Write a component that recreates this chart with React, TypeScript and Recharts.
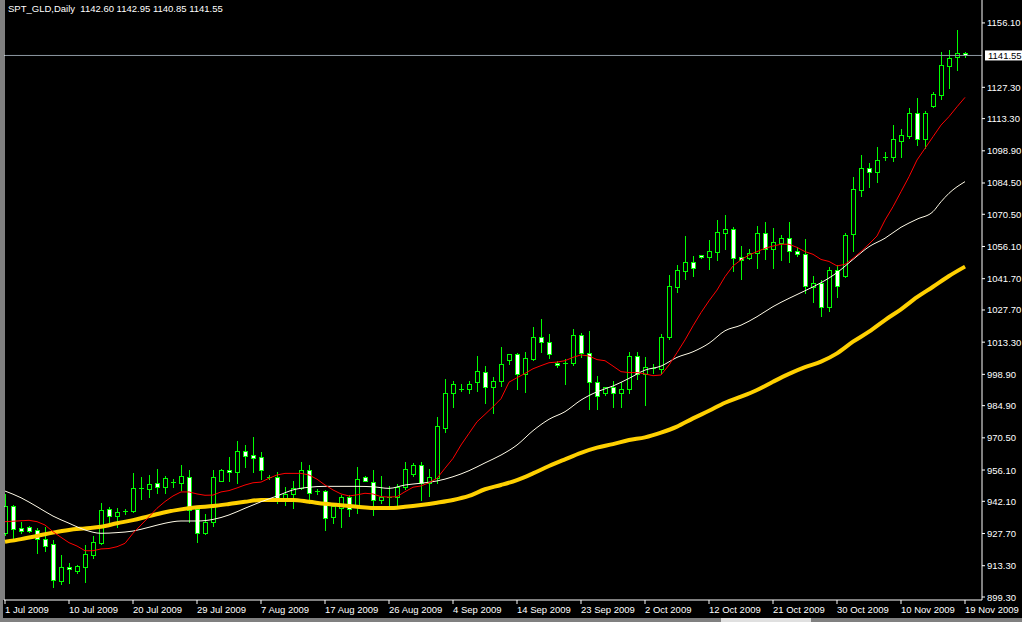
import { ComposedChart, Bar, Line, XAxis, YAxis, ReferenceLine } from 'recharts';

// daily OHLC, one entry per bar (Sun-Fri bars, 1 Jul .. 19 Nov 2009)
const opens = [
  928.0, 940.0, 930.2, 930.6, 929.3, 925.2, 922.9, 906.6, 912.7, 911.1,
  912.9, 918.2, 923.6, 938.5, 935.7, 937.6, 937.6, 947.9, 947.8, 950.3,
  948.4, 950.6, 950.2, 953.1, 938.5, 927.8, 933.0, 951.3, 956.1, 955.1,
  964.5, 962.8, 961.8, 953.0, 952.8, 943.3, 945.4, 947.9, 956.1, 946.5,
  946.7, 935.0, 939.2, 944.0, 939.4, 953.0, 950.6, 942.6, 944.0, 944.0,
  948.5, 954.5, 958.2, 950.4, 952.7, 975.0, 990.4, 992.5, 992.5, 995.3,
  999.8, 993.1, 995.8, 1005.2, 1007.9, 999.0, 1005.6, 1015.5, 1013.2, 1004.0,
  1003.8, 1003.8, 1016.5, 1008.3, 995.3, 990.7, 993.1, 990.4, 992.2, 1007.1,
  999.1, 1001.6, 1001.2, 1015.8, 1038.1, 1045.3, 1049.2, 1052.1, 1051.3, 1053.8,
  1062.3, 1063.8, 1051.3, 1051.1, 1053.0, 1062.0, 1054.8, 1057.8, 1059.7, 1053.9,
  1052.6, 1038.1, 1039.6, 1028.9, 1045.6, 1042.9, 1061.5, 1081.5, 1091.1, 1089.3,
  1096.3, 1096.3, 1103.4, 1105.5, 1115.7, 1104.1, 1119.1, 1124.0, 1137.0, 1140.7,
  1142.6,
];
const highs = [
  945.4, 940.5, 932.7, 931.2, 930.2, 930.8, 924.8, 918.1, 914.4, 913.7,
  922.6, 926.6, 941.5, 939.4, 939.1, 938.5, 954.9, 953.1, 953.9, 956.4,
  953.6, 951.9, 958.3, 956.1, 939.4, 936.3, 956.1, 956.6, 962.1, 969.1,
  967.3, 970.7, 964.0, 953.7, 955.4, 948.6, 951.2, 959.6, 958.3, 947.6,
  947.2, 941.2, 945.1, 944.8, 957.6, 953.4, 956.1, 953.4, 948.9, 949.8,
  959.7, 959.4, 959.7, 956.6, 979.8, 996.8, 995.9, 994.6, 995.9, 1007.1,
  1002.6, 997.6, 1011.1, 1007.9, 1008.6, 1008.9, 1020.1, 1023.7, 1017.1, 1004.9,
  1005.6, 1019.2, 1017.4, 1018.3, 998.2, 993.1, 995.9, 995.3, 1009.0, 1009.0,
  1006.8, 1003.4, 1017.0, 1043.3, 1047.8, 1060.8, 1051.8, 1052.3, 1059.0, 1067.9,
  1070.2, 1065.0, 1056.2, 1055.0, 1065.3, 1067.0, 1064.4, 1061.2, 1067.0, 1055.7,
  1059.3, 1042.9, 1041.1, 1047.1, 1047.8, 1062.3, 1087.3, 1097.0, 1093.3, 1100.6,
  1098.4, 1110.4, 1108.6, 1118.0, 1122.5, 1116.9, 1125.3, 1143.1, 1144.0, 1153.0,
  1142.95,
];
const lows = [
  927.0, 924.8, 927.8, 928.4, 918.8, 920.0, 903.9, 905.1, 905.7, 910.2,
  906.1, 916.9, 923.0, 931.5, 930.8, 936.3, 937.3, 943.1, 943.9, 946.0,
  946.0, 948.6, 947.2, 933.0, 924.0, 927.5, 931.1, 951.0, 951.3, 950.2,
  957.6, 955.0, 952.2, 952.0, 941.2, 940.5, 939.0, 947.6, 941.2, 945.4,
  929.3, 932.5, 930.5, 935.7, 936.7, 951.0, 936.2, 941.5, 938.5, 939.7,
  947.5, 953.4, 942.7, 944.6, 950.2, 973.2, 984.4, 991.4, 990.4, 991.6,
  986.2, 981.7, 993.7, 1003.7, 992.2, 991.1, 1005.3, 1009.0, 1006.1, 1002.3,
  994.4, 1002.9, 1006.7, 983.6, 983.6, 989.7, 984.4, 984.2, 990.7, 996.7,
  985.3, 999.6, 999.4, 1014.6, 1035.9, 1041.7, 1042.9, 1051.1, 1046.2, 1050.1,
  1055.1, 1045.3, 1041.7, 1050.4, 1046.6, 1050.5, 1046.3, 1050.1, 1049.2, 1052.0,
  1035.4, 1031.4, 1025.1, 1027.4, 1033.6, 1042.3, 1054.2, 1078.8, 1082.8, 1085.1,
  1094.8, 1094.5, 1096.3, 1104.6, 1101.5, 1100.0, 1118.5, 1122.2, 1127.1, 1135.0,
  1140.85,
];
const closes = [
  940.0, 929.9, 928.7, 929.0, 925.1, 922.2, 906.8, 912.7, 911.7, 913.2,
  918.5, 923.8, 938.2, 935.7, 937.3, 937.6, 947.9, 947.9, 949.7, 948.4,
  952.4, 950.6, 953.4, 938.2, 927.8, 933.0, 952.8, 956.1, 955.1, 964.5,
  962.5, 961.6, 956.2, 953.0, 943.3, 945.4, 947.9, 956.0, 946.0, 946.5,
  934.8, 940.0, 944.0, 938.8, 952.1, 951.1, 942.6, 944.0, 944.0, 948.5,
  956.6, 958.2, 950.4, 953.0, 975.8, 990.6, 994.4, 992.5, 994.6, 1000.3,
  993.1, 995.9, 1003.4, 1007.9, 999.0, 1006.1, 1015.5, 1013.2, 1007.9, 1002.9,
  1003.8, 1016.5, 1008.3, 995.3, 989.1, 993.1, 990.7, 992.2, 1007.1, 999.1,
  1002.3, 1001.6, 1015.5, 1038.4, 1045.6, 1049.2, 1046.6, 1051.3, 1054.1, 1062.6,
  1063.8, 1051.1, 1049.9, 1053.0, 1062.0, 1054.8, 1057.9, 1059.7, 1054.2, 1052.6,
  1038.3, 1039.6, 1028.9, 1045.6, 1038.6, 1061.2, 1081.8, 1091.2, 1089.3, 1094.6,
  1096.3, 1104.2, 1105.8, 1115.7, 1104.1, 1115.7, 1124.3, 1137.3, 1140.3, 1142.5,
  1141.55,
];

// fast moving average (red), one value per bar
const redMa = [
  933.0, 933.2, 933.4, 933.6, 933.0, 931.5, 928.5, 926.0, 923.6, 922.1,
  920.0, 920.0, 920.8, 921.0, 921.8, 923.3, 927.8, 931.5, 935.2, 939.0,
  942.0, 944.5, 946.3, 946.3, 945.4, 944.8, 944.9, 946.3, 946.9, 948.1,
  949.4, 950.4, 950.7, 952.4, 953.9, 954.6, 954.6, 954.6, 953.9, 952.0,
  949.4, 947.2, 945.4, 944.5, 945.0, 945.7, 945.4, 944.2, 944.0, 944.2,
  946.4, 948.4, 949.0, 950.4, 952.4, 956.9, 961.3, 967.3, 972.5, 977.7,
  981.0, 984.4, 988.0, 995.4, 997.4, 999.3, 1001.4, 1002.8, 1004.1, 1004.4,
  1005.0, 1006.5, 1007.6, 1007.1, 1005.5, 1005.0, 1002.6, 1000.1, 999.7, 999.7,
  999.1, 998.3, 998.6, 1003.1, 1008.6, 1014.3, 1020.6, 1026.5, 1031.8, 1036.6,
  1042.6, 1047.4, 1050.1, 1052.3, 1053.8, 1055.3, 1056.3, 1057.1, 1057.1, 1055.7,
  1053.8, 1052.6, 1050.3, 1049.4, 1047.4, 1048.1, 1050.8, 1053.8, 1057.2, 1060.8,
  1067.9, 1073.9, 1080.6, 1087.3, 1094.8, 1100.0, 1105.2, 1110.4, 1114.2, 1118.6,
  1122.8,
];

// slower averages, [bar, value]
const whiteMa: [number, number][] = [
  [0, 946.7], [2, 943.7], [4, 939.7], [6, 935.5], [8, 932.3], [10, 929.3], [12, 927.8],
  [14, 928.1], [16, 928.8], [18, 930.5], [20, 932.3], [22, 933.3], [24, 933.3], [26, 934.0],
  [28, 936.0], [30, 939.0], [32, 941.9], [34, 944.5], [36, 947.2], [38, 948.4], [40, 948.8],
  [42, 948.8], [44, 948.8], [46, 948.6], [48, 947.9], [50, 949.4], [52, 950.2], [54, 951.2],
  [56, 953.1], [58, 955.8], [60, 959.3], [62, 962.8], [64, 967.3], [66, 973.7], [68, 978.8],
  [70, 982.2], [72, 987.4], [74, 991.1], [76, 993.7], [78, 997.1], [80, 1000.8], [82, 1002.6],
  [84, 1006.5], [86, 1009.0], [88, 1012.8], [90, 1018.4], [92, 1020.9], [94, 1024.7],
  [96, 1029.2], [98, 1032.9], [100, 1036.3], [102, 1039.9], [104, 1044.4], [106, 1050.3],
  [108, 1056.0], [110, 1059.8], [112, 1064.7], [114, 1068.3], [116, 1071.7], [117, 1076.1],
  [118, 1079.9], [120, 1085.1],
];
const yellowMa: [number, number][] = [
  [0, 924.0], [2, 925.2], [4, 926.6], [6, 928.1], [8, 929.3], [10, 930.0], [12, 930.7],
  [14, 932.3], [16, 933.7], [18, 935.5], [20, 937.2], [22, 938.5], [24, 939.4], [26, 940.0],
  [28, 940.9], [30, 941.9], [32, 942.7], [34, 942.7], [36, 942.7], [38, 941.9], [40, 941.0],
  [42, 940.3], [44, 939.7], [46, 939.1], [48, 939.1], [50, 939.7], [52, 940.5], [54, 941.5],
  [56, 942.7], [58, 944.5], [60, 947.5], [62, 949.4], [64, 951.6], [66, 954.6], [68, 957.9],
  [70, 960.9], [72, 963.8], [74, 966.1], [76, 967.7], [78, 969.5], [80, 970.7], [82, 972.8],
  [84, 975.5], [86, 979.2], [88, 982.6], [90, 986.2], [92, 988.9], [94, 991.9], [96, 995.6],
  [98, 999.1], [100, 1002.1], [102, 1004.6], [104, 1008.3], [106, 1013.5], [108, 1018.0],
  [110, 1023.2], [112, 1028.0], [114, 1033.4], [116, 1038.1], [118, 1042.9], [120, 1047.1],
];

const priceTicks = [
  899.3, 913.3, 927.7, 942.1, 956.1, 970.5, 984.9, 998.9, 1013.3, 1027.7,
  1041.7, 1056.1, 1070.5, 1084.5, 1098.9, 1113.3, 1127.3, 1156.1,
];
const dateBars = [0, 8, 16, 24, 32, 40, 48, 56, 64, 72, 80, 88, 96, 104, 112, 120];
const dateLabels = [
  '1 Jul 2009', '10 Jul 2009', '20 Jul 2009', '29 Jul 2009', '7 Aug 2009', '17 Aug 2009',
  '26 Aug 2009', '4 Sep 2009', '14 Sep 2009', '23 Sep 2009', '2 Oct 2009', '12 Oct 2009',
  '21 Oct 2009', '30 Oct 2009', '10 Nov 2009', '19 Nov 2009',
];
const lastPrice = 1141.55;
const title = 'SPT_GLD,Daily  1142.60 1142.95 1140.85 1141.55';

const whiteByBar = new Map(whiteMa);
const yellowByBar = new Map(yellowMa);

const rows = opens.map((o, i) => ({
  i,
  o,
  h: highs[i],
  l: lows[i],
  c: closes[i],
  range: [lows[i], highs[i]],
  red: redMa[i],
  white: whiteByBar.get(i) ?? null,
  yellow: yellowByBar.get(i) ?? null,
}));

const GREEN = '#00ff00';
const FONT = '"Liberation Sans", Arial, sans-serif';
const FS = 9.5;

// candle drawn from the bar's high/low box, open/close placed proportionally
const Candle = (props: any) => {
  const { x, y, width, height, payload } = props;
  const { o, h, l, c } = payload;
  const top = Math.min(y, y + height);
  const span = Math.abs(height);
  const k = h > l ? span / (h - l) : 0;
  const py = (v: number) => top + (h - v) * k;
  const cx = Math.round(x + width / 2);
  const yo = py(o);
  const yc = py(c);
  const bTop = Math.round(Math.min(yo, yc));
  const bBot = Math.round(Math.max(yo, yc));
  return (
    <g>
      <line x1={cx + 0.5} x2={cx + 0.5} y1={Math.round(top)} y2={Math.round(top + span) + 1} stroke={GREEN} strokeWidth={1} />
      {bBot - bTop < 1 ? (
        <line x1={cx - 2} x2={cx + 3} y1={bTop + 0.5} y2={bTop + 0.5} stroke={GREEN} strokeWidth={1} />
      ) : (
        <rect
          x={cx - 1.5}
          y={bTop + 0.5}
          width={4}
          height={bBot - bTop}
          fill={c < o ? '#ffffff' : '#000000'}
          stroke={GREEN}
          strokeWidth={1}
        />
      )}
    </g>
  );
};

const DateTick = (props: any) => {
  const { x, y, payload } = props;
  const idx = dateBars.indexOf(payload.value);
  return (
    <text x={x} y={y + 7} fill="#fff" fontSize={FS} fontFamily={FONT} textAnchor="start">
      {dateLabels[idx]}
    </text>
  );
};

const PriceTick = (props: any) => {
  const { x, y, payload } = props;
  return (
    <text x={x} y={y + 3.5} fill="#fff" fontSize={FS} fontFamily={FONT} textAnchor="start">
      {payload.value.toFixed(2)}
    </text>
  );
};

const LastPriceLabel = (props: any) => {
  const { viewBox } = props;
  const lx = viewBox.x + viewBox.width + 3;
  return (
    <g>
      <rect x={lx} y={viewBox.y - 5} width={40} height={10} fill="#fff" />
      <text x={lx + 3} y={viewBox.y + 3.5} fill="#000" fontSize={FS} fontFamily={FONT}>
        {lastPrice.toFixed(2)}
      </text>
    </g>
  );
};

export default function App() {
  return (
    <div style={{ position: 'fixed', left: 0, top: 0, width: 1022, height: 622, background: '#000', overflow: 'hidden' }}>
      <ComposedChart width={1022} height={618} data={rows} margin={{ top: 0, right: 0, bottom: 0, left: 0 }}>
        <XAxis
          dataKey="i"
          type="number"
          domain={[-0.125, 122.125]}
          allowDataOverflow
          ticks={dateBars}
          interval={0}
          height={18}
          stroke="#fff"
          tickSize={4}
          tick={<DateTick />}
        />
        <YAxis yAxisId="b" orientation="left" width={4} domain={[897.96, 1166.36]} tick={false} tickLine={false} stroke="#fff" />
        <YAxis
          yAxisId="p"
          orientation="right"
          width={40}
          domain={[897.96, 1166.36]}
          allowDataOverflow
          ticks={priceTicks}
          interval={0}
          stroke="#fff"
          tickSize={3}
          tick={<PriceTick />}
        />
        <ReferenceLine yAxisId="p" y={lastPrice} stroke="#8e98a2" strokeWidth={1} label={<LastPriceLabel />} />
        <Line yAxisId="p" dataKey="yellow" type="monotone" stroke="#ffd000" strokeWidth={4} dot={false} connectNulls isAnimationActive={false} />
        <Line yAxisId="p" dataKey="white" type="monotone" stroke="#fffbe8" strokeWidth={1} dot={false} connectNulls isAnimationActive={false} />
        <Line yAxisId="p" dataKey="red" type="linear" stroke="#ff0000" strokeWidth={1} dot={false} isAnimationActive={false} />
        <Bar yAxisId="p" dataKey="range" barSize={5} shape={<Candle />} isAnimationActive={false} />
      </ComposedChart>
      <div style={{ position: 'absolute', left: 8, top: 3, color: '#fff', fontFamily: FONT, fontSize: FS, whiteSpace: 'pre', lineHeight: '12px' }}>
        {title}
      </div>
      <div style={{ position: 'absolute', left: 0, top: 0, width: 3, height: 618, background: '#808080' }} />
      <div style={{ position: 'absolute', left: 0, top: 618, width: 1022, height: 4, background: '#808080' }} />
      <div style={{ position: 'absolute', left: 721, top: 618, width: 90, height: 4, background: '#e0e0e0' }} />
    </div>
  );
}
